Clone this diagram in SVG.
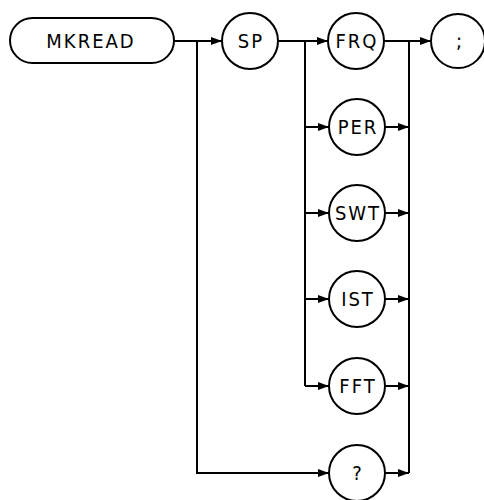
<svg xmlns="http://www.w3.org/2000/svg" width="484" height="500" viewBox="0 0 484 500">
<style>
.n{fill:none;stroke:#000;stroke-width:2}
.t{font-family:"DejaVu Sans Condensed","DejaVu Sans",sans-serif;font-stretch:condensed;font-size:20px;fill:#000;text-anchor:middle;dominant-baseline:central;letter-spacing:2px}
.c{fill:none;stroke:#000;stroke-width:2}
.a{fill:none;stroke:#000;stroke-width:2;marker-end:url(#ah)}
</style>
<defs>
<marker id="ah" markerUnits="userSpaceOnUse" markerWidth="12" markerHeight="9" refX="11" refY="4.5" orient="auto">
<path d="M0,0.5 L11,4.5 L0,8.5 z" fill="#000"/>
</marker>
</defs>
<rect width="484" height="500" fill="#fff"/>
<g id="connectors">
<path class="a" d="M174,41 H222"/>
<path class="a" d="M197,41 V473 H329"/>
<path class="a" d="M278,41 H328"/>
<path class="c" d="M305,41 V386"/>
<path class="a" d="M305,127 H329"/>
<path class="a" d="M305,213 H329"/>
<path class="a" d="M305,299 H329"/>
<path class="a" d="M305,386 H329"/>
<path class="a" d="M384,41 H431"/>
<path class="c" d="M409,41 V473"/>
<path class="a" d="M385,127 H409"/>
<path class="a" d="M385,213 H409"/>
<path class="a" d="M385,299 H409"/>
<path class="a" d="M385,386 H409"/>
<path class="a" d="M385,473 H409"/>
</g>
<g id="mkread"><rect class="n" x="10" y="18" width="164" height="45" rx="22.5"/><text class="t" x="91" y="41">MKREAD</text></g>
<g id="sp"><circle class="n" cx="250" cy="41" r="28"/><text class="t" x="251" y="41">SP</text></g>
<g id="frq"><circle class="n" cx="356" cy="41" r="28"/><text class="t" x="357" y="41">FRQ</text></g>
<g id="semi"><circle class="n" cx="458" cy="41" r="27"/><text class="t" x="460" y="41">;</text></g>
<g id="per"><circle class="n" cx="357" cy="127" r="28"/><text class="t" x="358" y="127">PER</text></g>
<g id="swt"><circle class="n" cx="357" cy="213" r="28"/><text class="t" x="358" y="213">SWT</text></g>
<g id="ist"><circle class="n" cx="357" cy="299" r="28"/><text class="t" x="358" y="299">IST</text></g>
<g id="fft"><circle class="n" cx="357" cy="386" r="28"/><text class="t" x="358" y="386">FFT</text></g>
<g id="query"><circle class="n" cx="357" cy="473" r="28"/><text class="t" x="358" y="473">?</text></g>
</svg>
